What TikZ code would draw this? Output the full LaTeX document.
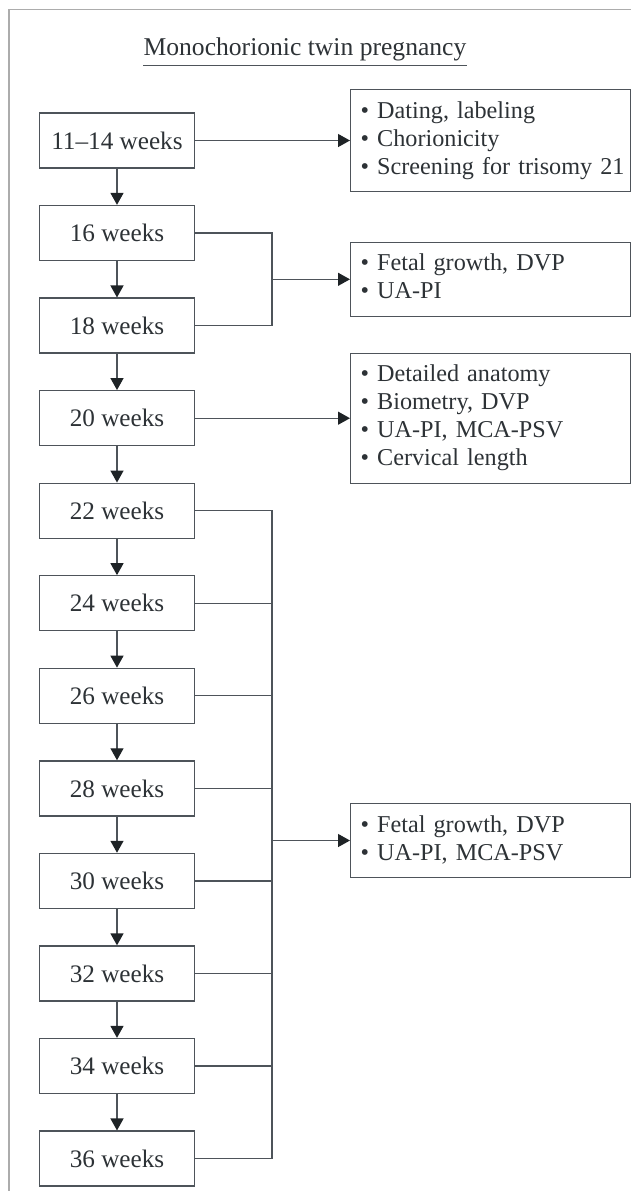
\documentclass[tikz,border=0pt]{standalone}
\usepackage{fontspec}
\setmainfont{Liberation Serif}
\usetikzlibrary{arrows.meta}
\definecolor{lncol}{RGB}{78,84,90}
\definecolor{tipcol}{RGB}{30,35,38}
\definecolor{txtcol}{RGB}{45,50,54}
\definecolor{framecol}{RGB}{172,172,172}

\begin{document}
\begin{tikzpicture}[x=0.5pt,y=-0.5pt,
  wk/.style={draw=lncol,line width=0.65pt,minimum width=77.8pt,minimum height=27.5pt,inner sep=0pt,text=txtcol,font=\fontsize{12.6}{14}\selectfont},
  todo/.style={draw=lncol,line width=0.65pt,anchor=west,text width=130pt,inner xsep=5pt,inner ysep=4.5pt,align=left,text=txtcol,font=\fontsize{12.1}{14}\selectfont},
  ln/.style={draw=lncol,line width=0.65pt},
  arr/.style={ln,-{Triangle[length=6pt,width=6.5pt,color=tipcol]}}]
\useasboundingbox (0,0) rectangle (631,1191);
\draw[framecol,line width=0.75pt] (9,1191) -- (9,9.5) -- (631,9.5);

\node[anchor=base,inner sep=0pt,text=txtcol,font=\fontsize{12.8}{15}\selectfont] (title) at (305,55) {Monochorionic twin pregnancy};
\draw[ln] ([yshift=-2.25pt]title.south west) -- ([yshift=-2.25pt]title.south east);

\node[wk] (w11) at (117,140.5) {11–14 weeks};
\node[wk] (w16) at (117,233) {16 weeks};
\node[wk] (w18) at (117,325.6) {18 weeks};
\node[wk] (w20) at (117,418.2) {20 weeks};
\node[wk] (w22) at (117,510.7) {22 weeks};
\node[wk] (w24) at (117,603.3) {24 weeks};
\node[wk] (w26) at (117,695.8) {26 weeks};
\node[wk] (w28) at (117,788.4) {28 weeks};
\node[wk] (w30) at (117,880.9) {30 weeks};
\node[wk] (w32) at (117,973.5) {32 weeks};
\node[wk] (w34) at (117,1066) {34 weeks};
\node[wk] (w36) at (117,1158.6) {36 weeks};

\node[todo] (r1) at (350,140.5) {\strut• Dating, labeling\\\strut• Chorionicity\\\strut\mbox{• Screening for trisomy 21}};
\node[todo] (r2) at (350,279.3) {\strut• Fetal growth, DVP\\\strut• UA-PI};
\node[todo] (r3) at (350,418.2) {\strut• Detailed anatomy\\\strut• Biometry, DVP\\\strut• UA-PI, MCA-PSV\\\strut• Cervical length};
\node[todo] (r4) at (350,840.5) {\strut• Fetal growth, DVP\\\strut• UA-PI, MCA-PSV};

\coordinate (j1) at (272,279.3);
\coordinate (j2) at (272,840.5);

\draw[arr] (w11) -- (w16);
\draw[arr] (w16) -- (w18);
\draw[arr] (w18) -- (w20);
\draw[arr] (w20) -- (w22);
\draw[arr] (w22) -- (w24);
\draw[arr] (w24) -- (w26);
\draw[arr] (w26) -- (w28);
\draw[arr] (w28) -- (w30);
\draw[arr] (w30) -- (w32);
\draw[arr] (w32) -- (w34);
\draw[arr] (w34) -- (w36);

\draw[arr] (w11) -- (r1);
\draw[ln] (w16.east) -| (j1);
\draw[ln] (w18.east) -| (j1);
\draw[arr] (j1) -- (r2);
\draw[arr] (w20) -- (r3);
\draw[ln] (w22.east) -| (j2);
\draw[ln] (w24.east) -| (j2);
\draw[ln] (w26.east) -| (j2);
\draw[ln] (w28.east) -| (j2);
\draw[ln] (w30.east) -| (j2);
\draw[ln] (w32.east) -| (j2);
\draw[ln] (w34.east) -| (j2);
\draw[ln] (w36.east) -| (j2);
\draw[arr] (j2) -- (r4);
\end{tikzpicture}
\end{document}
